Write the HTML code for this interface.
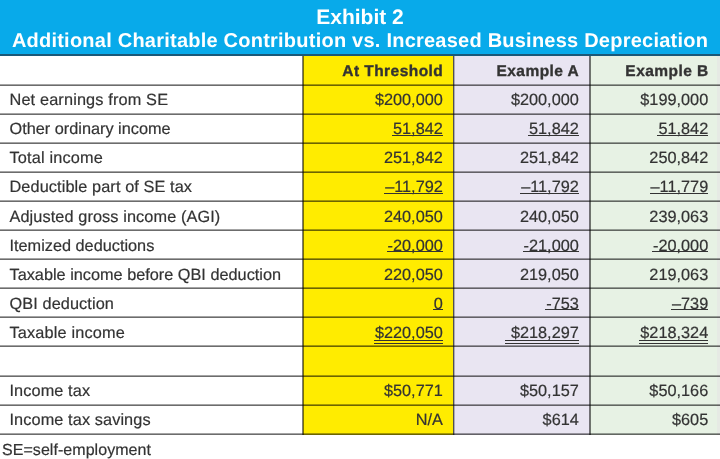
<!DOCTYPE html>
<html><head><meta charset="utf-8"><title>Exhibit 2</title><style>
html,body{margin:0;padding:0;width:720px;height:459px;overflow:hidden;background:#fff;}
#w{text-rendering:geometricPrecision;position:relative;width:720px;height:459px;overflow:hidden;font-family:"Liberation Sans",sans-serif;-webkit-font-smoothing:antialiased;}
.a{position:absolute;}
.hl{position:absolute;left:0;width:720px;height:2px;background:linear-gradient(#a4a4a4 50%,#6c6c6c 50%);mix-blend-mode:multiply}
.vl{position:absolute;width:2px;background:#7a7a7a;mix-blend-mode:multiply}
.t,.n,.h{-webkit-text-stroke:0.2px #333333}.h{-webkit-text-stroke-width:0.35px}
.t{position:absolute;white-space:nowrap;color:#333333;font-size:16.3px;line-height:1;letter-spacing:0.1px}
.n{position:absolute;white-space:nowrap;color:#333333;font-size:16.3px;line-height:1;letter-spacing:0px;text-align:right}
.h{position:absolute;white-space:nowrap;color:#333333;font-size:15.5px;line-height:1;letter-spacing:0.45px;text-align:right;font-weight:bold}
.ti{position:absolute;left:0;width:720px;text-align:center;white-space:nowrap;color:#fff;font-weight:bold;font-size:20px;line-height:1;-webkit-text-stroke:0px #fff}
.u{position:relative;display:inline-block}
.u i{position:absolute;left:-1px;right:0;height:1px;background:#333333}
</style></head><body><div id="w">
<div class="a" style="left:0;top:0;width:720px;height:54px;background:#08aaea"></div>
<div class="a" style="left:0;top:54px;width:720px;height:2px;background:#1a5878"></div>
<div class="ti" style="top:6.8px;letter-spacing:0px;font-size:21px">Exhibit 2</div>
<div class="ti" style="top:30.8px;letter-spacing:0.23px">Additional Charitable Contribution vs. Increased Business Depreciation</div>
<div class="a" style="left:302.6px;top:56px;width:150.9px;height:378.68px;background:#ffec00"></div>
<div class="a" style="left:453.5px;top:56px;width:136px;height:378.68px;background:#e9e5f2"></div>
<div class="a" style="left:589.5px;top:56px;width:127.2px;height:378.68px;background:#e7f2e4"></div>
<div class="hl" style="top:83.6px"></div>
<div class="hl" style="top:112.69px"></div>
<div class="hl" style="top:141.78px"></div>
<div class="hl" style="top:170.87px"></div>
<div class="hl" style="top:199.96px"></div>
<div class="hl" style="top:229.05px"></div>
<div class="hl" style="top:258.14px"></div>
<div class="hl" style="top:287.23px"></div>
<div class="hl" style="top:316.32px"></div>
<div class="hl" style="top:345.41px"></div>
<div class="hl" style="top:374.5px"></div>
<div class="hl" style="top:403.59px"></div>
<div class="hl" style="top:432.68px"></div>
<div class="vl" style="left:301.6px;top:56px;height:378.68px;width:2px;background:#7a7a7a"></div>
<div class="vl" style="left:452.5px;top:56px;height:378.68px;width:1px;background:#505050"></div>
<div class="vl" style="left:453.5px;top:56px;height:378.68px;width:1px;background:#c0c0c0"></div>
<div class="vl" style="left:588.5px;top:56px;height:378.68px;width:2px;background:#7a7a7a"></div>
<div class="a" style="left:716.7px;top:56px;width:3.3px;height:378.68px;background:#e6eae4;mix-blend-mode:multiply"></div>
<div class="h" style="right:276.75px;top:63.6px">At Threshold</div>
<div class="h" style="right:140.75px;top:63.6px">Example A</div>
<div class="h" style="right:11.35px;top:63.6px">Example B</div>
<div class="t" style="left:9.5px;top:92.2px;letter-spacing:0.15px">Net earnings from SE</div>
<div class="n" style="right:277.2px;top:92.2px">$200,000</div>
<div class="n" style="right:141.2px;top:92.2px">$200,000</div>
<div class="n" style="right:11.8px;top:92.2px">$199,000</div>
<div class="t" style="left:9.5px;top:121.29px;letter-spacing:0px">Other ordinary income</div>
<div class="n" style="right:277.2px;top:121.29px"><span class="u">51,842<i style="top:13.3px"></i></span></div>
<div class="n" style="right:141.2px;top:121.29px"><span class="u">51,842<i style="top:13.3px"></i></span></div>
<div class="n" style="right:11.8px;top:121.29px"><span class="u">51,842<i style="top:13.3px"></i></span></div>
<div class="t" style="left:9.5px;top:150.38px;letter-spacing:0.17px">Total income</div>
<div class="n" style="right:277.2px;top:150.38px">251,842</div>
<div class="n" style="right:141.2px;top:150.38px">251,842</div>
<div class="n" style="right:11.8px;top:150.38px">250,842</div>
<div class="t" style="left:9.5px;top:179.47px">Deductible part of SE tax</div>
<div class="n" style="right:277.2px;top:179.47px"><span class="u">–11,792<i style="top:13.3px"></i></span></div>
<div class="n" style="right:141.2px;top:179.47px"><span class="u">–11,792<i style="top:13.3px"></i></span></div>
<div class="n" style="right:11.8px;top:179.47px"><span class="u">–11,779<i style="top:13.3px"></i></span></div>
<div class="t" style="left:9.5px;top:208.56px">Adjusted gross income (AGI)</div>
<div class="n" style="right:277.2px;top:208.56px">240,050</div>
<div class="n" style="right:141.2px;top:208.56px">240,050</div>
<div class="n" style="right:11.8px;top:208.56px">239,063</div>
<div class="t" style="left:9.5px;top:237.65px;letter-spacing:0px">Itemized deductions</div>
<div class="n" style="right:277.2px;top:237.65px"><span class="u">-20,000<i style="top:13.3px"></i></span></div>
<div class="n" style="right:141.2px;top:237.65px"><span class="u">-21,000<i style="top:13.3px"></i></span></div>
<div class="n" style="right:11.8px;top:237.65px"><span class="u">-20,000<i style="top:13.3px"></i></span></div>
<div class="t" style="left:9.5px;top:266.74px;letter-spacing:0px">Taxable income before QBI deduction</div>
<div class="n" style="right:277.2px;top:266.74px">220,050</div>
<div class="n" style="right:141.2px;top:266.74px">219,050</div>
<div class="n" style="right:11.8px;top:266.74px">219,063</div>
<div class="t" style="left:9.5px;top:295.83px">QBI deduction</div>
<div class="n" style="right:277.2px;top:295.83px"><span class="u">0<i style="top:13.3px"></i></span></div>
<div class="n" style="right:141.2px;top:295.83px"><span class="u">-753<i style="top:13.3px"></i></span></div>
<div class="n" style="right:11.8px;top:295.83px"><span class="u">–739<i style="top:13.3px"></i></span></div>
<div class="t" style="left:9.5px;top:324.92px;letter-spacing:0.17px">Taxable income</div>
<div class="n" style="right:277.2px;top:324.92px"><span class="u">$220,050<i style="top:14.6px;left:-1px"></i><i style="top:17.6px;left:-1px"></i></span></div>
<div class="n" style="right:141.2px;top:324.92px"><span class="u">$218,297<i style="top:14.6px;left:-5.5px"></i><i style="top:17.6px;left:-5.5px"></i></span></div>
<div class="n" style="right:11.8px;top:324.92px"><span class="u">$218,324<i style="top:14.6px;left:-1px"></i><i style="top:17.6px;left:-1px"></i></span></div>
<div class="t" style="left:9.5px;top:383.1px">Income tax</div>
<div class="n" style="right:277.2px;top:383.1px">$50,771</div>
<div class="n" style="right:141.2px;top:383.1px">$50,157</div>
<div class="n" style="right:11.8px;top:383.1px">$50,166</div>
<div class="t" style="left:9.5px;top:412.19px">Income tax savings</div>
<div class="n" style="right:277.2px;top:412.19px">N/A</div>
<div class="n" style="right:141.2px;top:412.19px">$614</div>
<div class="n" style="right:11.8px;top:412.19px">$605</div>
<div class="t" style="left:2px;top:442.5px;font-size:16px;letter-spacing:0.05px">SE=self-employment</div>
</div></body></html>
